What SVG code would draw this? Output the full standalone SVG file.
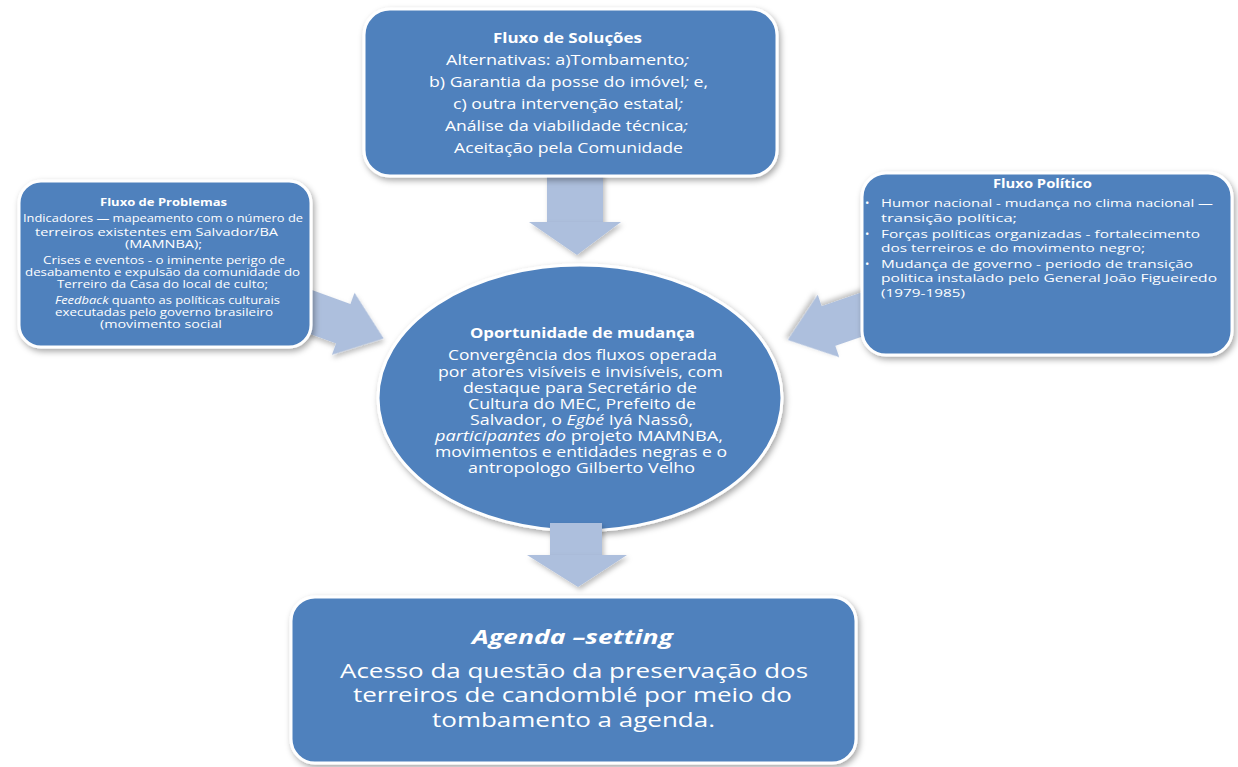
<svg xmlns="http://www.w3.org/2000/svg" width="1238" height="767" viewBox="0 0 1238 767">
<defs>
<filter id="sh" x="-10%" y="-10%" width="130%" height="130%">
<feDropShadow dx="2" dy="3" stdDeviation="3" flood-color="#000" flood-opacity="0.35"/>
</filter>
<filter id="ash" x="-20%" y="-20%" width="150%" height="150%">
<feDropShadow dx="2" dy="3" stdDeviation="2.5" flood-color="#000" flood-opacity="0.25"/>
</filter>
<path id="sideArrow" d="M0,-21 L46,-21 L46,-33 L89,0 L46,33 L46,21 L0,21 Z"/>
</defs>
<style>
.box{fill:#4f81bd;stroke:#ffffff;stroke-width:3;filter:url(#sh)}
.arr{fill:#adbfdd;filter:url(#ash)}
text{font-family:"Open Sans","Liberation Sans",sans-serif;fill:#ffffff}
.t15{font-size:14.5px}
.te{font-size:14px}
.t11{font-size:10px}
.t12{font-size:11.5px}
.t21{font-size:20.5px}
.b{font-weight:bold}
.i{font-style:italic}
</style>
<rect width="1238" height="767" fill="#ffffff"/>

<g id="connectors">
<rect class="arr" x="547" y="170" width="56" height="54"/>
<polygon class="arr" points="529,222 621,222 577,255"/>
<use href="#sideArrow" class="arr" transform="translate(300,308) rotate(20)"/>
<use href="#sideArrow" class="arr" transform="translate(872,311) rotate(161)"/>
</g>

<g id="solucoes">
<rect class="box" x="364" y="9" width="413" height="167" rx="26"/>
<text class="t15 b" x="493" y="43" textLength="149" lengthAdjust="spacingAndGlyphs">Fluxo de Soluções</text>
<text class="t15" x="446" y="65" textLength="243" lengthAdjust="spacingAndGlyphs">Alternativas: a)Tombamento<tspan class="i">;</tspan></text>
<text class="t15" x="429" y="87" textLength="279" lengthAdjust="spacingAndGlyphs">b) Garantia da posse do imóvel<tspan class="i">;</tspan> e,</text>
<text class="t15" x="453" y="109" textLength="230" lengthAdjust="spacingAndGlyphs">c) outra intervenção estatal<tspan class="i">;</tspan></text>
<text class="t15" x="445" y="131" textLength="243" lengthAdjust="spacingAndGlyphs">Análise da viabilidade técnica<tspan class="i">;</tspan></text>
<text class="t15" x="454" y="153" textLength="229" lengthAdjust="spacingAndGlyphs">Aceitação pela Comunidade</text>
</g>

<g id="problemas">
<rect class="box" x="19" y="181" width="292" height="166" rx="22"/>
<text class="t11 b" x="100" y="206" textLength="127" lengthAdjust="spacingAndGlyphs">Fluxo de Problemas</text>
<text class="t11" x="23" y="222" textLength="280" lengthAdjust="spacingAndGlyphs">Indicadores — mapeamento com o número de</text>
<text class="t11" x="35" y="236" textLength="243" lengthAdjust="spacingAndGlyphs">terreiros existentes em Salvador/BA</text>
<text class="t11" x="125" y="248" textLength="77" lengthAdjust="spacingAndGlyphs">(MAMNBA);</text>
<text class="t11" x="43" y="264" textLength="242" lengthAdjust="spacingAndGlyphs">Crises e eventos - o iminente perigo de</text>
<text class="t11" x="25" y="276" textLength="275" lengthAdjust="spacingAndGlyphs">desabamento e expulsão da comunidade do</text>
<text class="t11" x="57" y="288" textLength="211" lengthAdjust="spacingAndGlyphs">Terreiro da Casa do local de culto;</text>
<text class="t11" x="55" y="304" textLength="225" lengthAdjust="spacingAndGlyphs"><tspan class="i">Feedback</tspan> quanto as políticas culturais</text>
<text class="t11" x="55" y="316" textLength="218" lengthAdjust="spacingAndGlyphs">executadas pelo governo brasileiro</text>
<text class="t11" x="100" y="328" textLength="122" lengthAdjust="spacingAndGlyphs">(movimento social</text>
</g>

<g id="politico">
<rect class="box" x="862" y="173" width="370" height="182" rx="24"/>
<text class="t12 b" x="993" y="188" textLength="99" lengthAdjust="spacingAndGlyphs">Fluxo Político</text>
<text class="t12" x="865" y="207">•</text>
<text class="t12" x="881" y="207" textLength="332" lengthAdjust="spacingAndGlyphs">Humor nacional - mudança no clima nacional —</text>
<text class="t12" x="881" y="222" textLength="136" lengthAdjust="spacingAndGlyphs">transição política;</text>
<text class="t12" x="865" y="238">•</text>
<text class="t12" x="881" y="238" textLength="319" lengthAdjust="spacingAndGlyphs">Forças políticas organizadas - fortalecimento</text>
<text class="t12" x="881" y="252" textLength="264" lengthAdjust="spacingAndGlyphs">dos terreiros e do movimento negro;</text>
<text class="t12" x="865" y="268">•</text>
<text class="t12" x="881" y="268" textLength="312" lengthAdjust="spacingAndGlyphs">Mudança de governo - periodo de transição</text>
<text class="t12" x="881" y="282" textLength="336" lengthAdjust="spacingAndGlyphs">politica instalado pelo General João Figueiredo</text>
<text class="t12" x="881" y="297" textLength="84" lengthAdjust="spacingAndGlyphs">(1979-1985)</text>
</g>

<g id="oportunidade">
<ellipse class="box" cx="580" cy="398" rx="202" ry="133"/>
<text class="te b" x="470" y="338" textLength="225" lengthAdjust="spacingAndGlyphs">Oportunidade de mudança</text>
<text class="te" x="448" y="360" textLength="269" lengthAdjust="spacingAndGlyphs">Convergência dos fluxos operada</text>
<text class="te" x="438" y="377" textLength="285" lengthAdjust="spacingAndGlyphs">por atores visíveis e invisíveis, com</text>
<text class="te" x="463" y="393" textLength="234" lengthAdjust="spacingAndGlyphs">destaque para Secretário de</text>
<text class="te" x="468" y="409" textLength="228" lengthAdjust="spacingAndGlyphs">Cultura do MEC, Prefeito de</text>
<text class="te" x="470" y="425" textLength="223" lengthAdjust="spacingAndGlyphs">Salvador, o <tspan class="i">Egbé</tspan> Iyá Nassô,</text>
<text class="te" x="435" y="441" textLength="288" lengthAdjust="spacingAndGlyphs"><tspan class="i">participantes do</tspan> projeto MAMNBA,</text>
<text class="te" x="435" y="457" textLength="292" lengthAdjust="spacingAndGlyphs">movimentos e entidades negras e o</text>
<text class="te" x="468" y="473" textLength="227" lengthAdjust="spacingAndGlyphs">antropologo Gilberto Velho</text>
</g>

<g id="connectors-bottom">
<rect class="arr" x="550" y="523" width="52" height="34"/>
<polygon class="arr" points="527,555 627,555 578,587"/>
</g>

<g id="agenda">
<rect class="box" x="291" y="597" width="565" height="166" rx="24"/>
<text x="472" y="644" font-size="20" font-weight="bold" font-style="italic" textLength="201" lengthAdjust="spacingAndGlyphs">Agenda –setting</text>
<text class="t21" x="340" y="678" textLength="468" lengthAdjust="spacingAndGlyphs">Acesso da questão da preservação dos</text>
<text class="t21" x="353" y="702" textLength="439" lengthAdjust="spacingAndGlyphs">terreiros de candomblé por meio do</text>
<text class="t21" x="432" y="727" textLength="283" lengthAdjust="spacingAndGlyphs">tombamento a agenda.</text>
</g>
</svg>
